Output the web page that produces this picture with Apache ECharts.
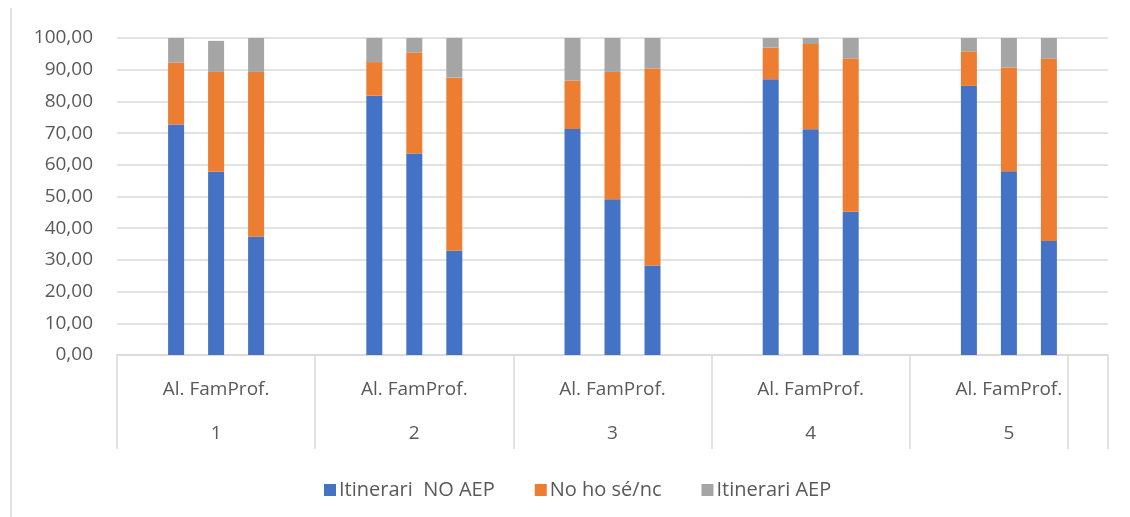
<!DOCTYPE html>
<html>
<head>
<meta charset="utf-8">
<script src="https://cdn.jsdelivr.net/npm/echarts@6/dist/echarts.min.js"></script>
<style>
  html, body { margin: 0; padding: 0; background: #fff; }
  #chart { width: 1130px; height: 517px; }
</style>
</head>
<body>
<div id="chart"></div>
<script>
const groups = ['1', '2', '3', '4', '5']
const profiles = ['Al.', 'Fam', 'Prof.']
const seriesNames = ['Itinerari  NO AEP', 'No ho sé/nc', 'Itinerari AEP']
const colors = ['#4472C4', '#ED7D31', '#A5A5A5']

// Itinerari NO AEP
const noAepAl = [72.7, 81.8, 71.3, 87.0, 84.9]
const noAepFam = [57.8, 63.6, 49.1, 71.2, 58.0]
const noAepProf = [37.3, 32.9, 28.2, 45.2, 36.0]
// No ho sé/nc
const nsncAl = [19.5, 10.6, 15.3, 10.0, 10.9]
const nsncFam = [31.5, 31.8, 40.2, 26.9, 32.7]
const nsncProf = [52.0, 54.6, 62.2, 48.3, 57.5]
// Itinerari AEP
const aepAl = [7.8, 7.6, 13.4, 3.0, 4.2]
const aepFam = [9.8, 4.6, 10.7, 1.9, 9.3]
const aepProf = [10.7, 12.5, 9.6, 6.5, 6.5]

const byProfile = [
  [noAepAl, nsncAl, aepAl],
  [noAepFam, nsncFam, aepFam],
  [noAepProf, nsncProf, aepProf]
]

const FONT = '"Open Sans", "Noto Sans", sans-serif'
const TEXT = '#595959'
const LINE = '#d9d9d9'

const series = []
profiles.forEach((p, pi) => {
  byProfile[pi].forEach((vals, si) => {
    series.push({
      name: seriesNames[si],
      type: 'bar',
      stack: p,
      data: vals,
      barWidth: 16,
      barGap: '150%',
      itemStyle: { color: colors[si] },
      animation: false
    })
  })
})

// excel squeezes the three sub-labels together into one line
const subLabel = profiles[0] + ' ' + profiles[1] + profiles[2]

const chart = echarts.init(document.getElementById('chart'))
const option = {
  textStyle: { fontFamily: FONT },
  grid: { left: 117, right: 22, top: 38, bottom: 162, containLabel: false },
  legend: {
    data: seriesNames,
    left: 319,
    top: 475,
    icon: 'rect',
    itemWidth: 12,
    itemHeight: 12,
    itemGap: 40,
    textStyle: { fontSize: 20, color: TEXT, fontFamily: FONT, padding: [0, 0, 0, -2] }
  },
  xAxis: {
    type: 'category',
    data: groups,
    axisLine: { show: true, lineStyle: { color: LINE, width: 1.5 } },
    axisTick: { show: true, length: 94, interval: 0, lineStyle: { color: LINE, width: 1.5 } },
    axisLabel: {
      interval: 0,
      margin: 25,
      formatter: v => '{s|' + subLabel + '}\n{n|' + v + '}',
      rich: {
        s: { width: 130, align: 'center', fontSize: 19, color: TEXT, fontFamily: FONT, lineHeight: 20 },
        n: { width: 130, align: 'center', fontSize: 19, color: TEXT, fontFamily: FONT, lineHeight: 20, padding: [47, 0, 0, 0] }
      }
    }
  },
  yAxis: {
    type: 'value',
    min: 0,
    max: 100,
    interval: 10,
    axisLine: { show: false },
    axisTick: { show: false },
    splitLine: { lineStyle: { color: LINE, width: 1.5 } },
    axisLabel: {
      margin: 24,
      fontSize: 19,
      color: TEXT,
      fontFamily: FONT,
      formatter: v => v.toFixed(2).replace('.', ',')
    }
  },
  graphic: [
    { type: 'line', shape: { x1: 11, y1: 8, x2: 11, y2: 517 }, style: { stroke: LINE, lineWidth: 1.5 } },
    { type: 'line', shape: { x1: 1068, y1: 355, x2: 1068, y2: 449 }, style: { stroke: LINE, lineWidth: 1.5 } }
  ],
  series: series
}
chart.setOption(option)
</script>
</body>
</html>
